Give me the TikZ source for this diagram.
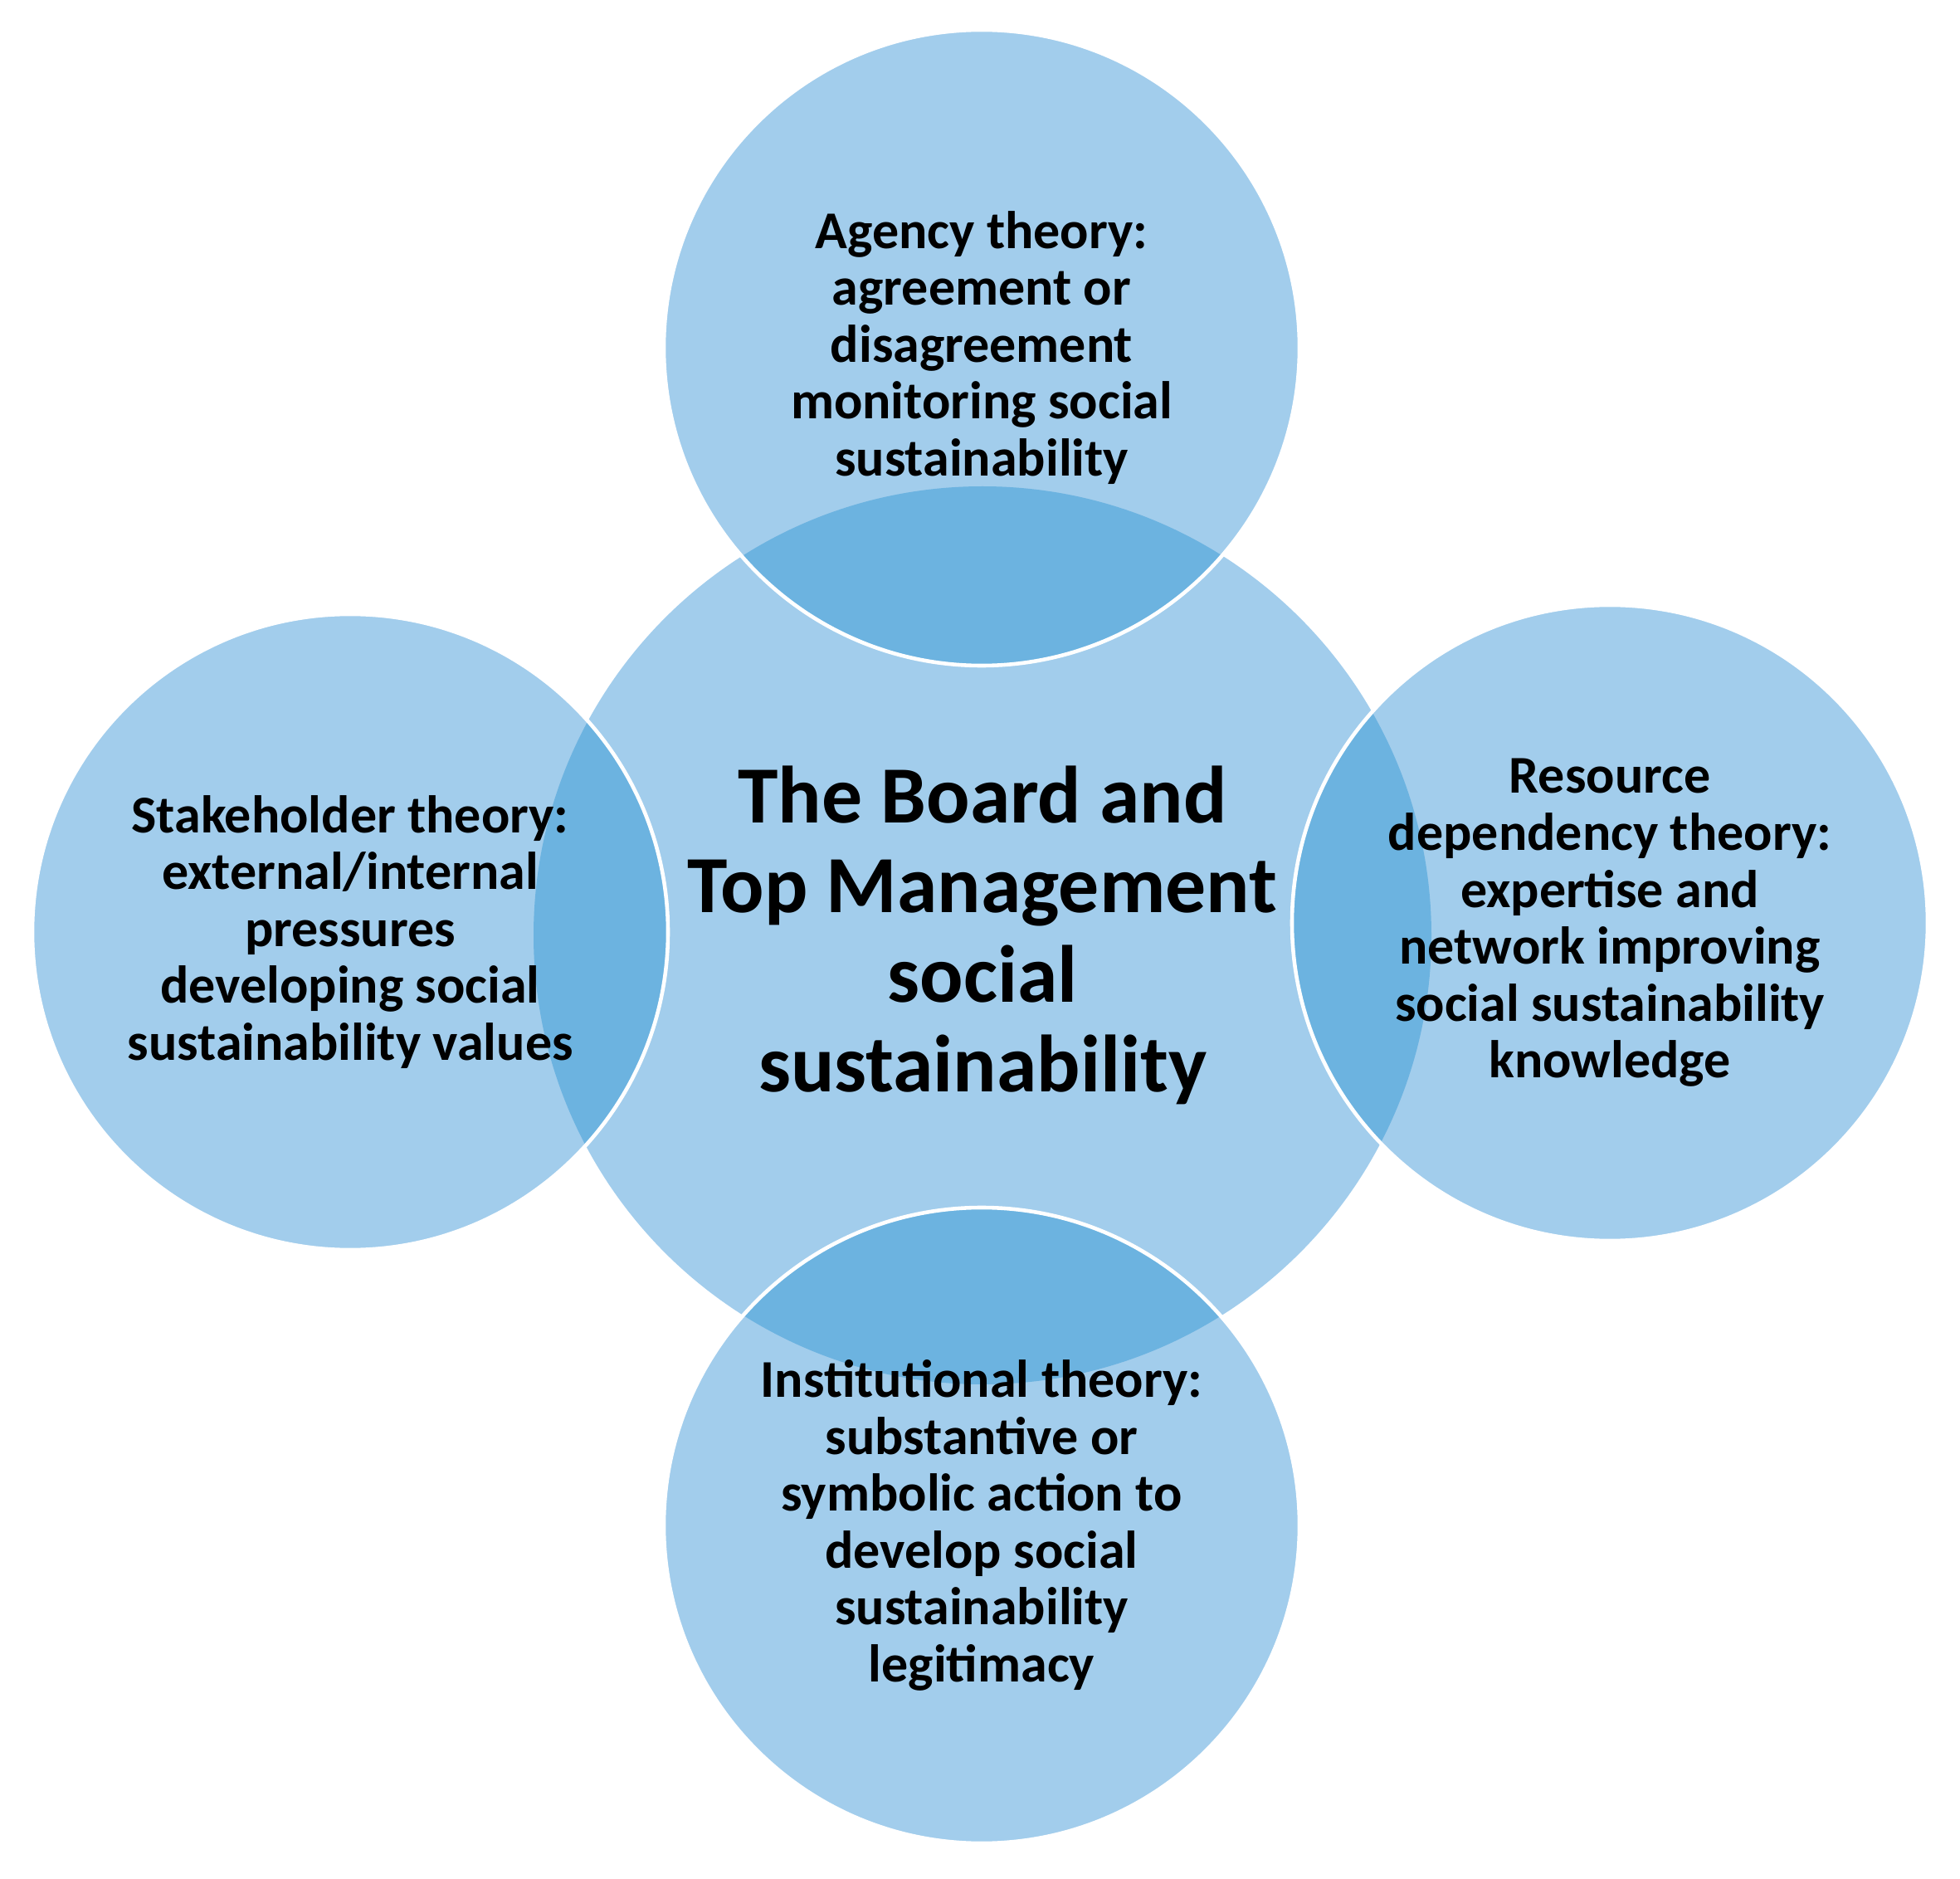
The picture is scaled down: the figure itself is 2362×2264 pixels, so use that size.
\documentclass[tikz,border=0pt]{standalone}
\usepackage{fontspec}
\setmainfont{Carlito}
\definecolor{lightblue}{RGB}{162,205,236}
\definecolor{darkblue}{RGB}{108,179,224}
\tikzset{
  outertext/.style={align=center, font=\bfseries\fontsize{18.2}{19.5}\selectfont, text=black},
  centertext/.style={align=center, font=\bfseries\fontsize{27.8}{30.7}\selectfont, text=black},
  ring/.style={draw=white, line width=1.3pt}
}
\begin{document}
\begin{tikzpicture}[x=0.01cm, y=-0.01cm]
\useasboundingbox (0,0) rectangle (2362,2264);
\coordinate (C) at (1184,1127);
\coordinate (T) at (1183,419);
\coordinate (B) at (1183,1838);
\coordinate (L) at (422,1123);
\coordinate (R) at (1940,1112);
\def\rc{541}
\def\ro{383}
% base fills
\fill[lightblue] (C) circle [radius=\rc];
\foreach \p in {T,B,L,R} {\fill[lightblue] (\p) circle [radius=\ro];}
% overlaps
\begin{scope}
\clip (C) circle [radius=\rc];
\foreach \p in {T,B,L,R} {\fill[darkblue] (\p) circle [radius=\ro];}
\end{scope}
% white outlines
\foreach \p in {T,B,L,R} {\draw[ring] (\p) circle [radius=\ro];}
% texts
\node[centertext] (ctext) at (C) {The Board and\\Top Management\\social\\sustainability};
\node[outertext] (ttext) at (T) {Agency theory:\\agreement or\\disagreement\\monitoring social\\sustainability};
\node[outertext] (ltext) at (L) {Stakeholder theory:\\external/internal\\pressures\\developing social\\sustainability values};
\node[outertext] (rtext) at (R) {Resource\\dependency theory:\\expertise and\\network improving\\social sustainability\\knowledge};
\node[outertext] (btext) at (B) {Institutional theory:\\substantive or\\symbolic action to\\develop social\\sustainability\\legitimacy};
\end{tikzpicture}
\end{document}
